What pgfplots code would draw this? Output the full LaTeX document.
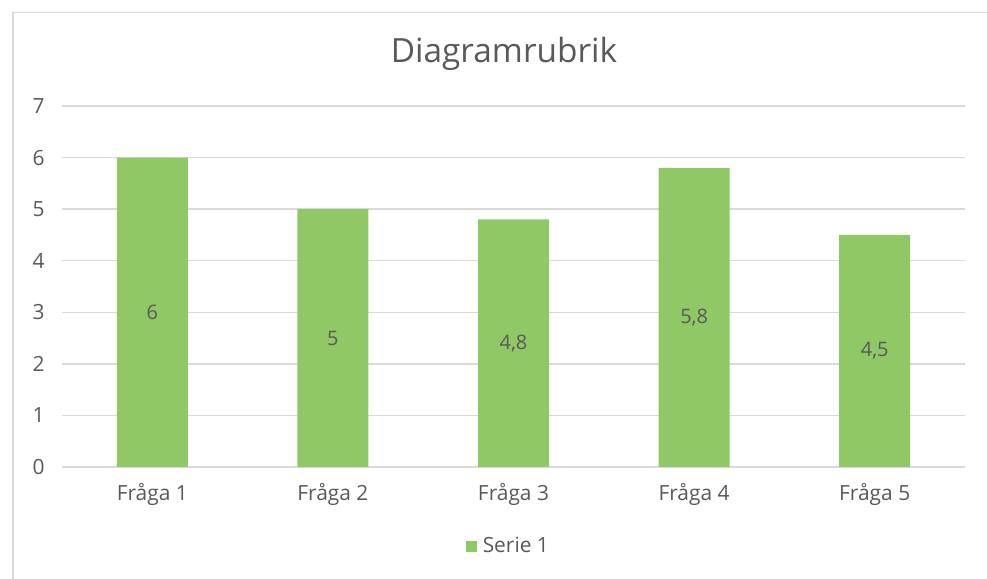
\documentclass[border=0pt]{standalone}
\usepackage{fontspec}
\setmainfont{Open Sans}
\usepackage{pgfplots}
\usepackage{pgfplotstable}
\pgfplotsset{compat=1.18}
\definecolor{bargreen}{HTML}{91C866}
\definecolor{txtgray}{HTML}{595959}
\definecolor{gridgray}{HTML}{D9D9D9}
\pgfplotstableread{
x v lab
0 6   6
1 5   5
2 4.8 4,8
3 5.8 5,8
4 4.5 4,5
}\datatable
\begin{document}
\begin{tikzpicture}[x=1bp,y=1bp]
\useasboundingbox (0,0) rectangle (987,579);
\draw[gridgray, line width=1.5bp] (12.75,0) -- (12.75,566.25) -- (987,566.25);
\node[txtgray, font=\fontsize{33.5}{38}\selectfont, anchor=center] at (504,525) {Diagramrubrik};
\begin{axis}[
  at={(62bp,112bp)}, anchor=south west,
  scale only axis, width=903bp, height=361bp,
  xmin=-0.5, xmax=4.5, ymin=0, ymax=7,
  xtick={0,...,4},
  xticklabels={Fråga 1,Fråga 2,Fråga 3,Fråga 4,Fråga 5},
  ytick={0,...,7},
  axis line style={draw=none},
  tick style={draw=none},
  ymajorgrids,
  major grid style={gridgray, line width=1.5bp},
  ticklabel style={txtgray, font=\fontsize{21}{25}\selectfont},
  yticklabel style={xshift=-14bp},
  xticklabel style={yshift=-13bp},
  /pgf/number format/assume math mode=true,
  legend style={at={(0.4943,-0.219)}, anchor=center, draw=none, fill=none,
    font=\fontsize{21}{25}\selectfont, text=txtgray},
  legend image code/.code={\fill[bargreen] (0bp,-5.5bp) rectangle (11bp,5.5bp); \path (0bp,0bp) -- (15bp,0bp);},
]
\addplot[ybar, bar width=71bp, fill=bargreen, draw=none] table[x=x, y=v] {\datatable};
\addlegendentry{Serie 1}
\addplot[only marks, mark=none, forget plot, nodes near coords,
  point meta=explicit symbolic,
  every node near coord/.append style={anchor=center, txtgray, font=\fontsize{20}{24}\selectfont}]
  table[x=x, y expr=\thisrow{v}/2, meta=lab] {\datatable};
\end{axis}
\end{tikzpicture}
\end{document}
